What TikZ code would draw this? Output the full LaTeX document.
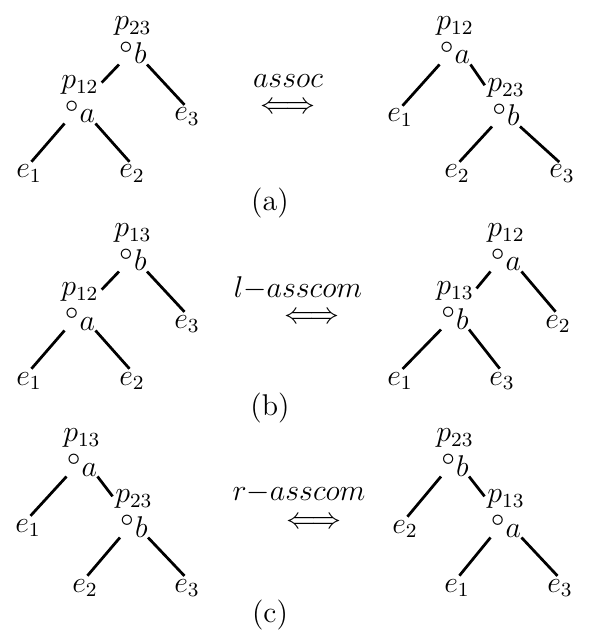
\documentclass[tikz,border=0pt]{standalone}
\usepackage{amsmath,amssymb}
\usepackage{tikz}
\usetikzlibrary{positioning}
\newcommand{\opnodo}[1]{${}^{\scalebox{1.25}{$\scriptstyle\circ$}}#1$}
\tikzset{
  oper/.style={anchor=base,inner sep=0pt},
  hoja/.style={anchor=base,inner sep=0pt},
  etiq/.style={inner sep=0pt},
  regla/.style={inner sep=0pt},
  rama/.style={line width=1.1pt,shorten >=1.5pt},
}

\begin{document}
\begin{tikzpicture}[x=0.4pt, y=-0.4pt, font=\fontsize{12}{14}\selectfont]
    \useasboundingbox (0,0) rectangle (588,638);
    % (a) assoc, arbol izquierdo
    \node[oper] (ai-r) at (133,64) {\opnodo{b}};
    \node[etiq,above=2pt of ai-r] (ai-rp) {$p_{23}$};
    \node[oper] (ai-s) at (80,123) {\opnodo{a}};
    \node[etiq,above=2pt of ai-s] (ai-sp) {$p_{12}$};
    \node[hoja] (ai-e1) at (29,178) {$e_1$};
    \node[hoja] (ai-e2) at (132,178) {$e_2$};
    \node[hoja] (ai-e3) at (187,121) {$e_3$};
    \draw[rama] (ai-r.south west) -- (ai-sp.east);
    \draw[rama] (ai-r.south east) -- (ai-e3.north);
    \draw[rama] (ai-s.south west) -- (ai-e1.north);
    \draw[rama] (ai-s.south east) -- (ai-e2.north);
    % (a) assoc, arbol derecho
    \node[oper] (ad-r) at (455,64) {\opnodo{a}};
    \node[etiq,above=2pt of ad-r] (ad-rp) {$p_{12}$};
    \node[oper] (ad-s) at (506,126) {\opnodo{b}};
    \node[etiq,above=2pt of ad-s] (ad-sp) {$p_{23}$};
    \node[hoja] (ad-e1) at (400,122) {$e_1$};
    \node[hoja] (ad-e2) at (457,178) {$e_2$};
    \node[hoja] (ad-e3) at (562,178) {$e_3$};
    \draw[rama] (ad-r.south west) -- (ad-e1.north);
    \draw[rama] (ad-r.south east) -- (ad-sp.west);
    \draw[rama] (ad-s.south west) -- (ad-e2.north);
    \draw[rama] (ad-s.south east) -- (ad-e3.north);
    % (a) regla
    \node[regla] (opa) at (288,81) {$assoc$};
    \node[regla] (fla) at (288,108) {$\Longleftrightarrow$};
    \node (pa) at (270,203) {(a)};
    % (b) l-asscom, arbol izquierdo
    \node[oper] (bi-r) at (133,271) {\opnodo{b}};
    \node[etiq,above=2pt of bi-r] (bi-rp) {$p_{13}$};
    \node[oper] (bi-s) at (80,330) {\opnodo{a}};
    \node[etiq,above=2pt of bi-s] (bi-sp) {$p_{12}$};
    \node[hoja] (bi-e1) at (29,385) {$e_1$};
    \node[hoja] (bi-e2) at (132,385) {$e_2$};
    \node[hoja] (bi-e3) at (187,328) {$e_3$};
    \draw[rama] (bi-r.south west) -- (bi-sp.east);
    \draw[rama] (bi-r.south east) -- (bi-e3.north);
    \draw[rama] (bi-s.south west) -- (bi-e1.north);
    \draw[rama] (bi-s.south east) -- (bi-e2.north);
    % (b) l-asscom, arbol derecho
    \node[oper] (bd-r) at (506,271) {\opnodo{a}};
    \node[etiq,above=2pt of bd-r] (bd-rp) {$p_{12}$};
    \node[oper] (bd-s) at (455,329) {\opnodo{b}};
    \node[etiq,above=2pt of bd-s] (bd-sp) {$p_{13}$};
    \node[hoja] (bd-e1) at (400,385) {$e_1$};
    \node[hoja] (bd-e3) at (502,385) {$e_3$};
    \node[hoja] (bd-e2) at (558,328) {$e_2$};
    \draw[rama] (bd-r.south west) -- (bd-sp.east);
    \draw[rama] (bd-r.south east) -- (bd-e2.north);
    \draw[rama] (bd-s.south west) -- (bd-e1.north);
    \draw[rama] (bd-s.south east) -- (bd-e3.north);
    % (b) regla
    \node[regla] (opb) at (298,288) {$l{-}asscom$};
    \node[regla] (flb) at (312,318) {$\Longleftrightarrow$};
    \node (pb) at (270,408) {(b)};
    % (c) r-asscom, arbol izquierdo
    \node[oper] (ci-r) at (82,476) {\opnodo{a}};
    \node[etiq,above=2pt of ci-r] (ci-rp) {$p_{13}$};
    \node[oper] (ci-s) at (134,537) {\opnodo{b}};
    \node[etiq,above=2pt of ci-s] (ci-sp) {$p_{23}$};
    \node[hoja] (ci-e1) at (28,532) {$e_1$};
    \node[hoja] (ci-e2) at (85,592) {$e_2$};
    \node[hoja] (ci-e3) at (187,592) {$e_3$};
    \draw[rama] (ci-r.south west) -- (ci-e1.north);
    \draw[rama] (ci-r.south east) -- (ci-sp.west);
    \draw[rama] (ci-s.south west) -- (ci-e2.north);
    \draw[rama] (ci-s.south east) -- (ci-e3.north);
    % (c) r-asscom, arbol derecho
    \node[oper] (cd-r) at (455,476) {\opnodo{b}};
    \node[etiq,above=2pt of cd-r] (cd-rp) {$p_{23}$};
    \node[oper] (cd-s) at (506,537) {\opnodo{a}};
    \node[etiq,above=2pt of cd-s] (cd-sp) {$p_{13}$};
    \node[hoja] (cd-e2) at (405,533) {$e_2$};
    \node[hoja] (cd-e1) at (457,592) {$e_1$};
    \node[hoja] (cd-e3) at (560,592) {$e_3$};
    \draw[rama] (cd-r.south west) -- (cd-e2.north);
    \draw[rama] (cd-r.south east) -- (cd-sp.west);
    \draw[rama] (cd-s.south west) -- (cd-e1.north);
    \draw[rama] (cd-s.south east) -- (cd-e3.north);
    % (c) regla
    \node[regla] (opc) at (299,493) {$r{-}asscom$};
    \node[regla] (flc) at (314,523) {$\Longleftrightarrow$};
    \node (pc) at (270,615) {(c)};
\end{tikzpicture}
\end{document}
